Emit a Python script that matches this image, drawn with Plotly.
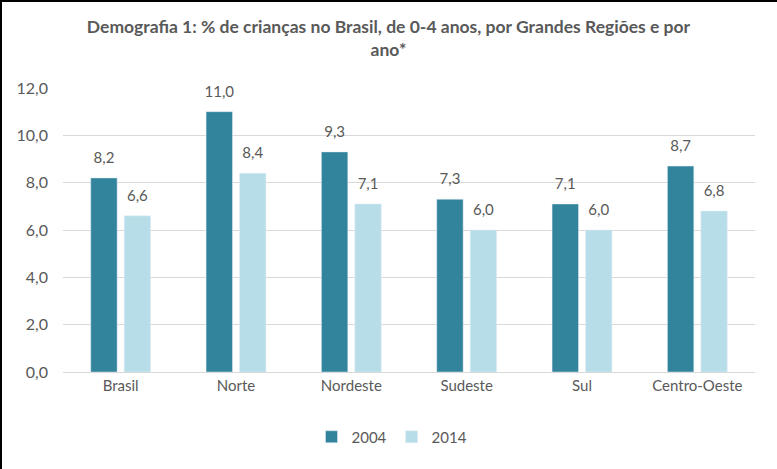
import plotly.graph_objects as go

categories = ["Brasil", "Norte", "Nordeste", "Sudeste", "Sul", "Centro-Oeste"]
values_2004 = [8.2, 11.0, 9.3, 7.3, 7.1, 8.7]
values_2014 = [6.6, 8.4, 7.1, 6.0, 6.0, 6.8]
y_ticks = [0, 2, 4, 6, 8, 10, 12]

W, H = 777, 469
ml, mr, mt, mb = 63, 22, 88, 97
FONT = "Lato, Open Sans, sans-serif"
GRAY = "#595959"

fig = go.Figure()
for name, vals, col, og in [("2004", values_2004, "#31849B", "a"),
                            ("2014", values_2014, "#B7DEE8", "b")]:
    fig.add_trace(go.Bar(name=name, x=categories, y=vals, marker_color=col,
                         offsetgroup=og, alignmentgroup="g"))
for name, vals, og in [("2004", values_2004, "a"), ("2014", values_2014, "b")]:
    fig.add_trace(go.Scatter(x=categories, y=vals, mode="markers+text", text=vals,
                             texttemplate="%{y:.1f}", textposition="top center",
                             marker=dict(size=16, opacity=0), offsetgroup=og,
                             alignmentgroup="g", showlegend=False, hoverinfo="skip",
                             textfont=dict(size=15, color=GRAY, family=FONT),
                             cliponaxis=False))

pw = W - ml - mr
ph = H - mt - mb
fig.update_layout(
    width=W, height=H,
    margin=dict(l=ml, r=mr, t=mt, b=mb),
    paper_bgcolor="white", plot_bgcolor="white",
    separators=", ",
    font=dict(family=FONT, color=GRAY, size=15),
    title=dict(text="<b>Demografia 1: % de crianças no Brasil, de 0-4 anos, por Grandes Regiões e por<br>ano*</b>",
               x=0.5, xref="container", xanchor="center", y=1 - 33 / H, yanchor="middle",
               font=dict(size=17.5, color=GRAY, family=FONT)),
    barmode="group", bargap=0.42, bargroupgap=0.21,
    scattermode="group", scattergap=0.42,
    xaxis=dict(showline=True, linecolor="#D9D9D9", linewidth=1, ticks="",
               tickfont=dict(size=15, color=GRAY)),
    yaxis=dict(range=[0, 12], tickvals=y_ticks, tickformat=".1f", showgrid=True,
               gridcolor="#D9D9D9", gridwidth=1, zeroline=False, ticks="",
               tickfont=dict(size=16, color=GRAY), ticklabelstandoff=14),
    legend=dict(orientation="h", x=(392 - ml) / pw, xanchor="center",
                y=-(437 - (mt + ph)) / ph,
                yanchor="middle", font=dict(size=15, color=GRAY), traceorder="normal",
                itemwidth=30),
    showlegend=True,
)

# image frame (left and top black edges)
fig.add_shape(type="line", xref="paper", yref="paper",
              x0=-ml / pw, x1=(W - ml) / pw, y0=1 + (mt - 1) / ph, y1=1 + (mt - 1) / ph,
              line=dict(color="black", width=2))
fig.add_shape(type="line", xref="paper", yref="paper",
              x0=-(ml - 1) / pw, x1=-(ml - 1) / pw, y0=-mb / ph, y1=1 + mt / ph,
              line=dict(color="black", width=2))

fig.write_html("out.html")
